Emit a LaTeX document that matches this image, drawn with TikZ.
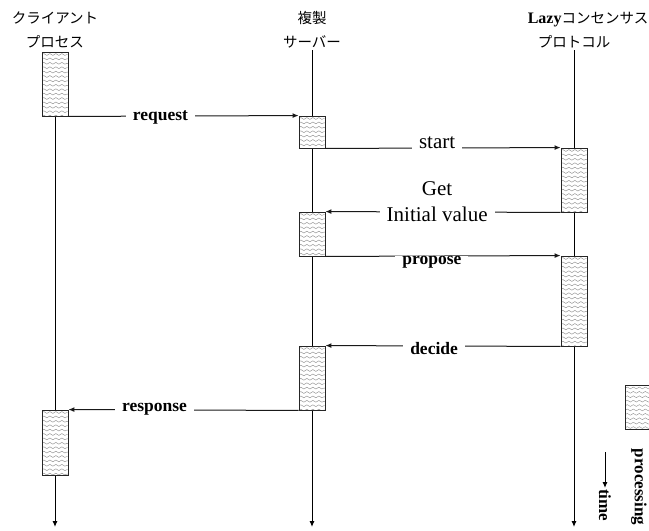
\documentclass[tikz,border=0pt]{standalone}
\usepackage{fontspec}
\setmainfont{Liberation Serif}
\newfontfamily\jp{Noto Sans CJK JP}
\usetikzlibrary{arrows.meta,decorations.pathmorphing}
\begin{document}
\begin{tikzpicture}[x=1pt,y=-1pt,
  procbox/.style={draw=black!85,line width=0.9pt,fill=white,minimum width=26pt,inner sep=0pt,
    path picture={
      \foreach \i in {0,...,24}{
        \draw[black!45,line width=0.4pt,decorate,decoration={snake,segment length=6pt,amplitude=0.9pt}]
          ([yshift=-2.5pt-\i*4.4pt]path picture bounding box.north west) --
          ([yshift=-2.5pt-\i*4.4pt]path picture bounding box.north east);
      }}},
  life/.style={line width=1pt,-{Latex[length=6pt,width=5pt]}},
  msg/.style={line width=1pt,black!90,-{Latex[length=6pt,width=5pt]}},
  lbl/.style={fill=white,text=black,inner sep=0pt,inner xsep=7pt},
  blbl/.style={lbl,font=\fontsize{17.5}{19}\selectfont\bfseries},
  rlbl/.style={lbl,font=\fontsize{21}{22}\selectfont},
  head/.style={font=\jp\fontsize{14.5}{24}\selectfont,align=center,inner sep=0pt}
]
\useasboundingbox (0,0) rectangle (649,531);
% headers
\node[head] (hc) at (55,30) {クライアント\\プロセス};
\node[head] (hs) at (312,30) {複製\\サーバー};
\node[head] (hl) at (588,30) {{\rmfamily\bfseries\fontsize{16}{24}\selectfont Lazy}コンセンサス\\\hspace*{-28pt}プロトコル};
% lifeline ends
\coordinate (ce) at (55,527);
\coordinate (se) at (312,527);
\coordinate (le) at (574,527);
\coordinate (ss) at (312,50);
\coordinate (ls) at (574,50);
% boxes
\node[procbox,minimum height=64pt] (c1) at (55,84) {};
\node[procbox,minimum height=65pt] (c2) at (55,442.5) {};
\node[procbox,minimum height=32pt] (s1) at (312,132) {};
\node[procbox,minimum height=44pt] (s2) at (312,234) {};
\node[procbox,minimum height=64pt] (s3) at (312,378) {};
\node[procbox,minimum height=64pt] (l1) at (574,180) {};
\node[procbox,minimum height=90pt] (l2) at (574,301) {};
% lifelines
\draw[life] (c1.south) -- (ce);
\draw[life] (ss) -- (se);
\draw[life] (ls) -- (le);
% redraw boxes on top of lifelines
\node[procbox,minimum height=64pt] at (c1) {};
\node[procbox,minimum height=65pt] at (c2) {};
\node[procbox,minimum height=32pt] at (s1) {};
\node[procbox,minimum height=44pt] at (s2) {};
\node[procbox,minimum height=64pt] at (s3) {};
\node[procbox,minimum height=64pt] at (l1) {};
\node[procbox,minimum height=90pt] at (l2) {};
% messages
\draw[msg] (c1.south east) -- node[blbl,pos=0.4,yshift=-1pt] (mreq) {request} (s1.north west);
\draw[msg] (s1.south east) -- node[rlbl,pos=0.475,yshift=5pt] (mstart) {start} (l1.north west);
\draw[msg] (l1.south west) -- node[rlbl,pos=0.525,yshift=-2pt] (minit) {Initial value} (s2.north east);
\node[font=\fontsize{21}{22}\selectfont,inner sep=0pt] (mget) at (437,189) {Get};
\draw[msg] (s2.south east) -- node[blbl,pos=0.453,yshift=-6pt] (mprop) {propose} (l2.north west);
\draw[msg] (l2.south west) -- node[blbl,pos=0.538,yshift=-3pt] (mdec) {decide} (s3.north east);
\draw[msg] (s3.south west) -- node[blbl,pos=0.626,yshift=1pt] (mresp) {response} (c2.north east);
% legend
\node[procbox,minimum height=44pt,anchor=north west] (leg) at (625,385) {};
\node[rotate=-90,font=\fontsize{17}{19}\selectfont\bfseries,inner sep=0pt] (lp) at (639,487) {processing};
\coordinate (ta) at (605,452);
\coordinate (tb) at (605,488);
\draw[line width=1pt,-{Latex[length=6pt,width=5pt]}] (ta) -- (tb);
\node[rotate=-90,font=\fontsize{17}{19}\selectfont\bfseries,inner sep=0pt,anchor=west] (lt) at (605,489) {time};
\end{tikzpicture}
\end{document}
